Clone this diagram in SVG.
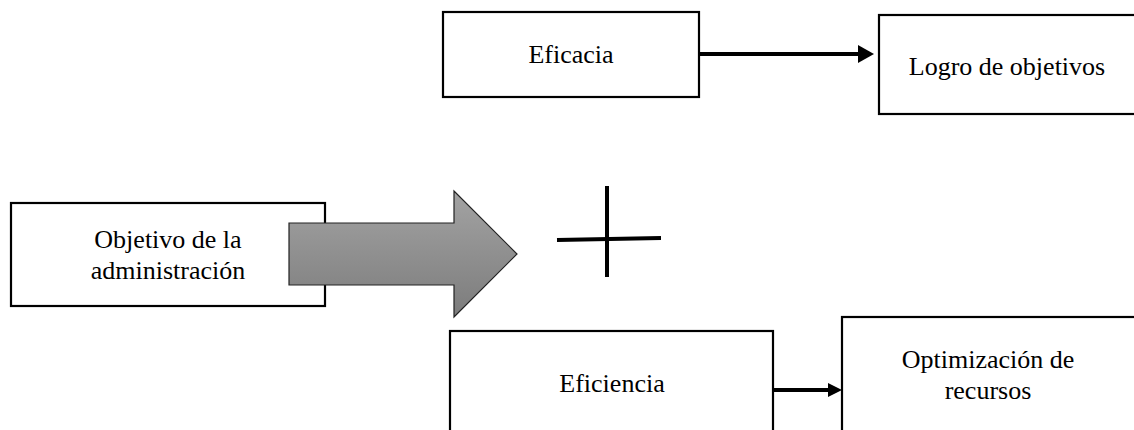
<svg xmlns="http://www.w3.org/2000/svg" width="1134" height="430" viewBox="0 0 1134 430">
<style>
.box{fill:#fff;stroke:#000;stroke-width:2.2}
.t{font-family:"Liberation Serif","Times New Roman",serif;font-size:26px;fill:#000;text-anchor:middle}
.con{stroke:#000;stroke-width:4;fill:none}
</style>
<defs>
<linearGradient id="g" x1="0" y1="0" x2="0" y2="1">
<stop offset="0" stop-color="#a3a3a3"/>
<stop offset="1" stop-color="#7c7c7c"/>
</linearGradient>
</defs>
<rect width="1134" height="430" fill="#fff"/>
<g id="eficacia"><rect class="box" x="443" y="12" width="256" height="85"/><text class="t" x="571" y="63">Eficacia</text></g>
<g id="logro"><rect class="box" x="879" y="15" width="270" height="99"/><text class="t" x="1007" y="75">Logro de objetivos</text></g>
<g id="objetivo"><rect class="box" x="11" y="203" width="314" height="103"/><text class="t" x="168" y="248">Objetivo de la</text><text class="t" x="168" y="279">administración</text></g>
<g id="flecha"><path d="M289,223 H454 V191 L517,254 L454,317 V285 H289 Z" fill="url(#g)" stroke="#222" stroke-width="1.2"/></g>
<g id="mas"><line x1="607" y1="186" x2="607" y2="277" stroke="#000" stroke-width="4"/><line x1="557" y1="240" x2="661" y2="238" stroke="#000" stroke-width="4"/></g>
<g id="eficiencia"><rect class="box" x="450" y="331" width="323" height="120"/><text class="t" x="612" y="392">Eficiencia</text></g>
<g id="optimizacion"><rect class="box" x="842" y="317" width="310" height="130"/><text class="t" x="988" y="368">Optimización de</text><text class="t" x="988" y="399">recursos</text></g>
<g id="connectors">
<line class="con" x1="699" y1="54" x2="860" y2="54"/>
<polygon points="858,45 874,54 858,63" fill="#000"/>
<line class="con" x1="773" y1="390" x2="830" y2="390"/>
<polygon points="828,383 842,390 828,397" fill="#000"/>
</g>
</svg>
